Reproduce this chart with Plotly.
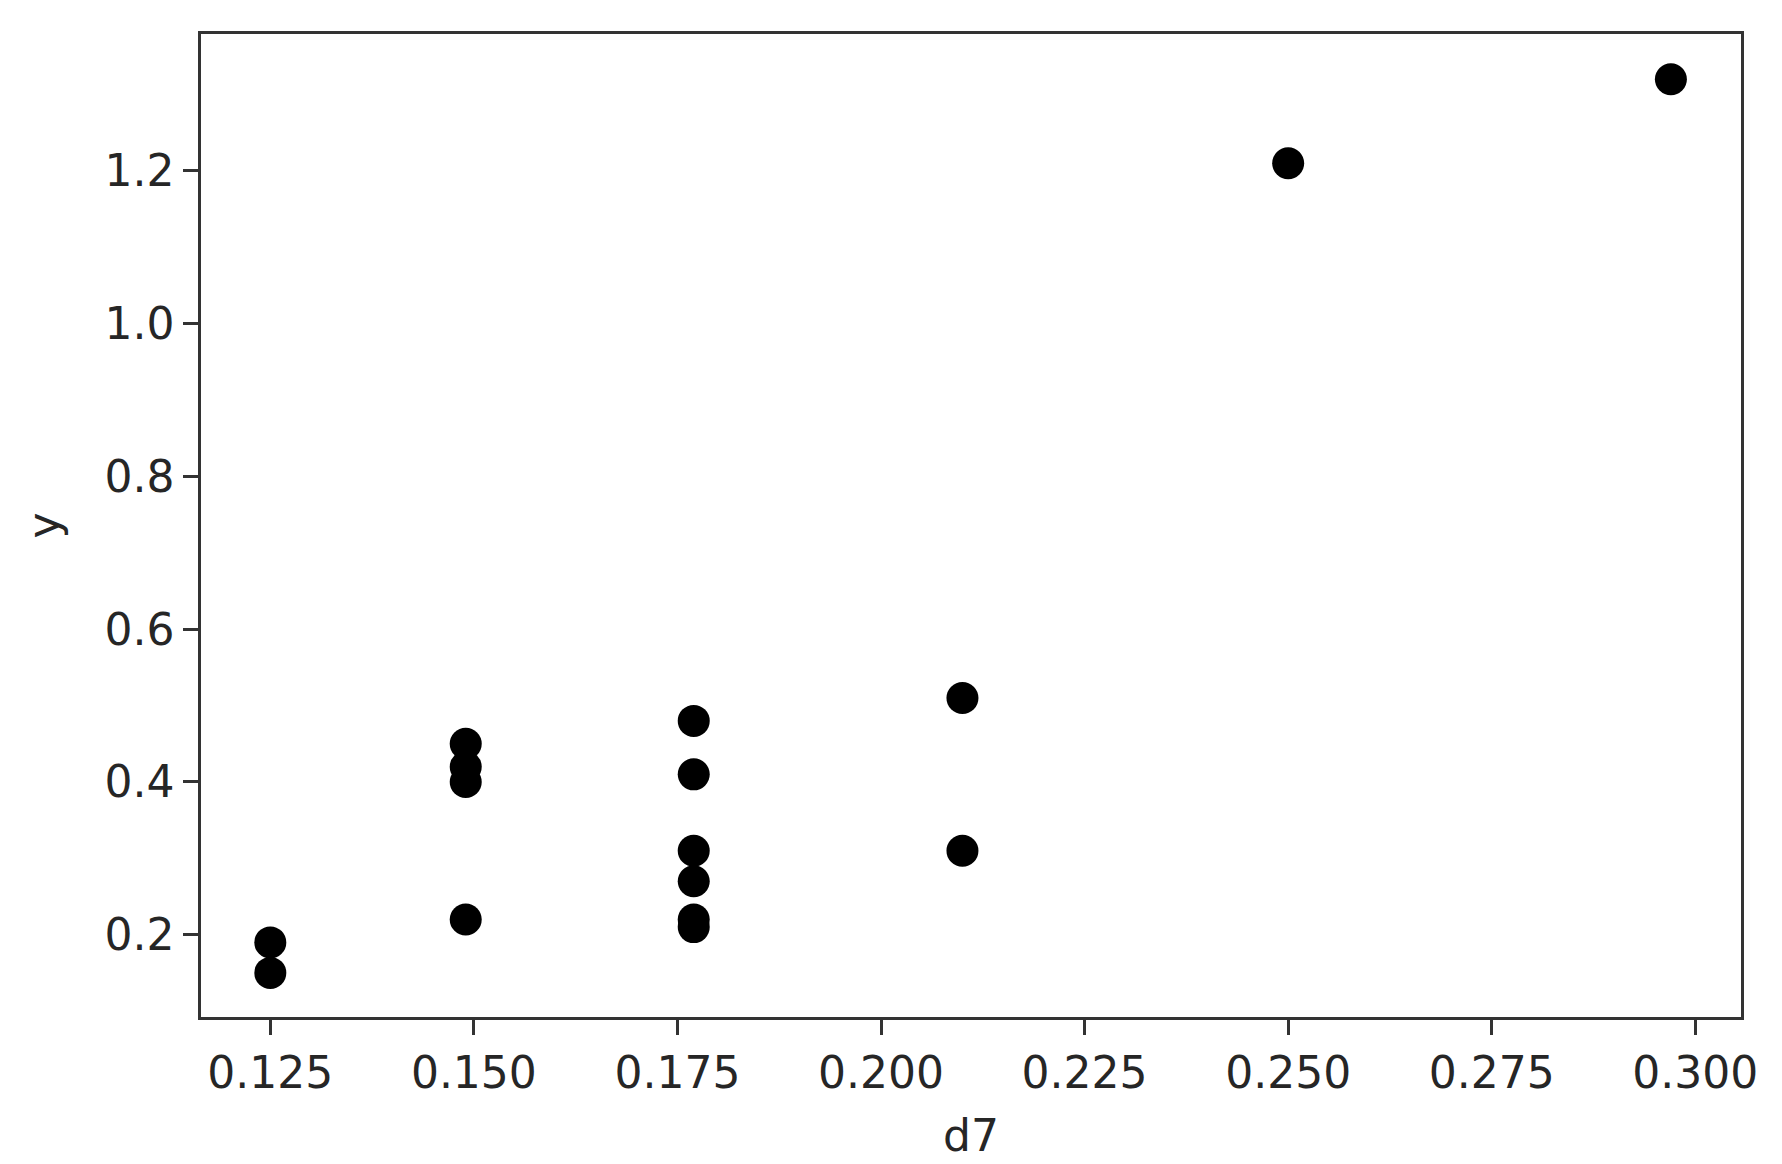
import plotly.graph_objects as go

d7 = [0.125, 0.125, 0.149, 0.149, 0.149, 0.149,
      0.177, 0.177, 0.177, 0.177, 0.177, 0.177,
      0.21, 0.21, 0.25, 0.297]
y = [0.19, 0.15, 0.45, 0.42, 0.40, 0.22,
     0.48, 0.41, 0.31, 0.27, 0.22, 0.21,
     0.51, 0.31, 1.21, 1.32]

x_ticks = [0.125, 0.150, 0.175, 0.200, 0.225, 0.250, 0.275, 0.300]
x_tick_text = ["0.125", "0.150", "0.175", "0.200", "0.225", "0.250", "0.275", "0.300"]
y_ticks = [0.2, 0.4, 0.6, 0.8, 1.0, 1.2]
y_tick_text = ["0.2", "0.4", "0.6", "0.8", "1.0", "1.2"]

fig = go.Figure()
fig.add_trace(go.Scatter(
    x=d7, y=y, mode="markers",
    marker=dict(color="black", size=32, line=dict(width=0)),
    showlegend=False,
))

font = dict(family="DejaVu Sans", size=44, color="#262626")
axis_common = dict(
    showline=True, mirror=True, linecolor="#333333", linewidth=2.5,
    ticks="outside", ticklen=15, tickwidth=2.5, tickcolor="#333333",
    showgrid=False, zeroline=False, tickfont=font, automargin=False,
)
fig.update_xaxes(range=[0.11649, 0.30561], tickvals=x_ticks, ticktext=x_tick_text,
                 title=dict(text="d7", font=font, standoff=24), **axis_common)
fig.update_yaxes(range=[0.0923, 1.3793], tickvals=y_ticks, ticktext=y_tick_text,
                 title=dict(text="y", font=font, standoff=32), **axis_common)

# page body has an 8px default margin; compensate so the plot lands where it should
fig.update_layout(
    width=1774, height=1156,
    margin=dict(l=193, r=41, t=26, b=147, pad=0),
    plot_bgcolor="white", paper_bgcolor="white",
    font=font,
)
fig.write_html("out.html")
